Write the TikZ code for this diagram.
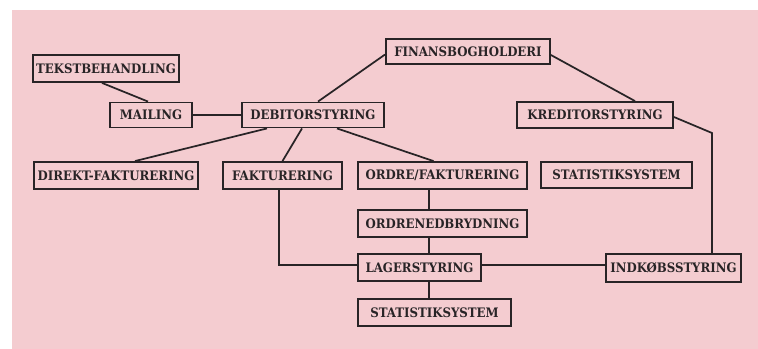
\documentclass[tikz,border=0pt]{standalone}
\usepackage{fontspec}
\setmainfont{DejaVu Serif Condensed}
\usetikzlibrary{calc}
\definecolor{bgpink}{RGB}{244,204,208}
\definecolor{ink}{RGB}{40,36,38}
\tikzset{
  box/.style={draw=ink, line width=1.4pt, inner sep=0pt, text=ink,
    font=\fontsize{9.8}{11}\selectfont\bfseries, anchor=center},
  link/.style={draw=ink, line width=1.3pt}
}
\newcommand{\bx}[6]{\node[box, minimum width={#4*0.75pt}, minimum height={#5*0.75pt}] (#1) at (#2,#3) {#6};}
\begin{document}
\begin{tikzpicture}[x=0.75pt, y=-0.75pt]
\useasboundingbox (0,0) rectangle (758,349);
\fill[white] (0,0) rectangle (758,349);
\fill[bgpink] (12,10) rectangle (758,349);
\bx{tek}{106}{68.5}{146}{27}{TEKSTBEHANDLING}
\bx{mail}{151}{115}{82}{25}{MAILING}
\bx{deb}{313}{115}{142}{25}{DEBITORSTYRING}
\bx{fin}{468}{51.5}{164}{25}{FINANSBOGHOLDERI}
\bx{kred}{595}{115}{156}{26}{KREDITORSTYRING}
\bx{dir}{116}{175.5}{164}{27}{DIREKT-FAKTURERING}
\bx{fak}{282.5}{175.5}{119}{27}{FAKTURERING}
\bx{ord}{442.5}{175.5}{169}{27}{ORDRE/FAKTURERING}
\bx{statA}{616.5}{175}{151}{26}{STATISTIKSYSTEM}
\bx{ordn}{442.5}{223.5}{169}{27}{ORDRENEDBRYDNING}
\bx{lag}{419.5}{267.5}{123}{27}{LAGERSTYRING}
\bx{statB}{434.5}{312.5}{153}{27}{STATISTIKSYSTEM}
\bx{ind}{673.5}{268}{135}{28}{INDKØBSSTYRING}
\coordinate (kbend) at (712,133);
% connectors
\draw[link] ($(tek.south)+(-4,0)$) -- ($(mail.north)+(-3,0)$);
\draw[link] (mail.east) -- (deb.west);
\draw[link] ($(deb.north)+(5,0)$) -- ($(fin.west)+(0,3)$);
\draw[link] ($(fin.east)+(0,3.5)$) -- ($(kred.north)+(40,0)$);
\draw[link] ($(kred.east)+(0,2)$) -- (kbend) -- (kbend |- ind.north);
\draw[link] ($(deb.south)+(-46,0)$) -- ($(dir.north)+(19,0)$);
\draw[link] ($(deb.south)+(-11,0)$) -- (fak.north);
\draw[link] ($(deb.south)+(24,0)$) -- ($(ord.north)+(-9,0)$);
\draw[link] ($(ord.south)+(-13.5,0)$) -- ($(ordn.north)+(-13.5,0)$);
\draw[link] ($(ordn.south)+(-13.5,0)$) -- ($(lag.north)+(9.5,0)$);
\draw[link] ($(lag.south)+(9.5,0)$) -- ($(statB.north)+(-5.5,0)$);
\draw[link] ($(fak.south)+(-3.5,0)$) |- ($(lag.west)+(0,-2.5)$);
\draw[link] ($(lag.east)+(0,-2.5)$) -- ($(ind.west)+(0,-3)$);
\end{tikzpicture}
\end{document}
